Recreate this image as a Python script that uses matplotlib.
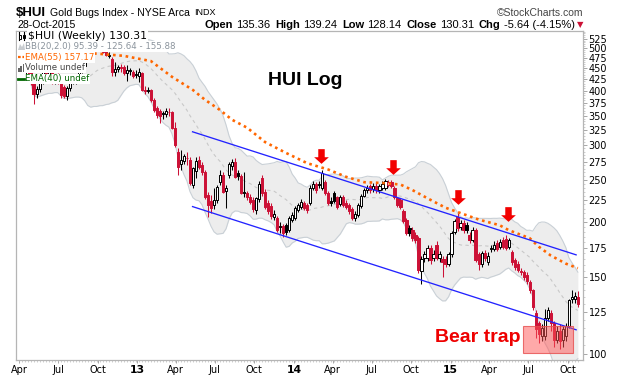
import numpy as np
import pandas as pd
import matplotlib
matplotlib.use("Agg")
import matplotlib.pyplot as plt
import matplotlib.dates as mdates
from matplotlib.patches import Rectangle, Polygon
from matplotlib.collections import PatchCollection
from matplotlib.lines import Line2D
from matplotlib.path import Path
from matplotlib.ticker import FixedLocator, NullFormatter, FixedFormatter

W, H = 620, 376

# ---------------- data (weekly OHLC) ----------------
FIRST_WEEK = "2012-04-02"
opens = [462, 445, 436, 443, 440, 418, 392, 404, 420, 445, 430, 445, 418, 432, 416, 408, 388, 405, 418, 424,
         428, 445, 455, 485, 510, 500, 505, 515, 495, 492, 480, 472, 442, 448, 452, 453, 438, 444, 440, 434,
         432, 439, 402, 400, 402, 380, 364, 360, 353, 353, 358, 357, 329, 290, 272, 276, 280, 278, 244, 262,
         278, 271, 260, 231, 224, 219, 225, 247, 257, 236, 256, 269, 274, 259, 255, 234, 233, 228, 225, 213,
         226, 252, 235, 222, 218, 206, 205, 195, 196, 197, 192, 203, 205, 213, 217, 222, 219, 221, 240, 245,
         244, 240, 247, 233, 224, 233, 228, 220, 228, 222, 219, 215, 205, 208, 218, 230, 237, 242, 238, 242,
         237, 240, 240, 244, 247, 240, 227, 225, 212, 203, 194, 192, 187, 184, 155, 166, 166, 175, 166, 178,
         166, 165, 165, 161, 169, 190, 206, 195, 199, 197, 187, 182, 192, 169, 161, 170, 162, 174, 174, 179,
         176, 182, 183, 176, 171, 164, 161, 154, 154, 152, 146, 140, 124, 118, 110, 110, 121, 124, 118, 108,
         113, 108, 110, 116, 134, 134, 135.36]
highs = [470, 452, 448, 452, 444, 420, 410, 425, 450, 455, 450, 450, 436, 438, 418, 412, 410, 422, 428, 432,
         448, 462, 490, 515, 525, 510, 528, 520, 505, 500, 490, 478, 465, 458, 460, 458, 458, 450, 445, 445,
         450, 442, 410, 408, 404, 384, 368, 363, 360, 364, 364, 360, 339, 296, 293, 287, 290, 282, 268, 282,
         284, 274, 263, 235, 231, 240, 244, 264, 260, 244, 274, 279, 280, 264, 258, 260, 236, 232, 228, 229,
         249, 256, 238, 225, 221, 213, 207, 200, 198, 199, 207, 211, 218, 222, 226, 224, 221, 243, 249, 247,
         248, 263, 250, 236, 228, 236, 230, 231, 231, 225, 221, 217, 212, 221, 232, 240, 244, 245, 246, 246,
         245, 248, 251, 250, 250, 242, 229, 227, 214, 205, 197, 195, 190, 186, 168, 172, 178, 178, 173, 181,
         172, 168, 168, 171, 191, 204, 210, 202, 203, 200, 190, 195, 194, 171, 172, 173, 171, 178, 181, 182,
         183, 185, 187, 184, 173, 166, 163, 157, 156, 154, 148, 141, 126, 119, 117, 127, 128, 126, 119, 116,
         117, 116, 118, 134, 140, 139, 139.24]
lows = [440, 430, 425, 432, 412, 372, 384, 396, 415, 425, 425, 414, 415, 414, 384, 385, 381, 398, 414, 415,
        420, 438, 450, 480, 495, 488, 500, 492, 488, 480, 474, 431, 432, 440, 440, 435, 420, 434, 428, 428,
        418, 398, 392, 394, 376, 358, 346, 337, 345, 348, 350, 326, 298, 257, 263, 272, 270, 243, 240, 252,
        265, 256, 226, 206, 210, 214, 222, 244, 233, 216, 252, 264, 252, 250, 232, 228, 225, 220, 211, 209,
        223, 230, 214, 209, 204, 203, 190, 189, 185, 187, 190, 200, 203, 211, 215, 213, 210, 219, 237, 234,
        240, 237, 231, 219, 218, 221, 214, 218, 217, 214, 209, 202, 201, 206, 216, 228, 234, 233, 235, 234,
        233, 237, 237, 241, 239, 226, 217, 215, 199, 187, 186, 181, 179, 153, 145, 162, 163, 161, 163, 164,
        162, 150, 158, 159, 167, 188, 191, 192, 189, 189, 179, 180, 162, 156, 158, 163, 160, 171, 172, 172,
        174, 174, 173, 174, 160, 156, 154, 152, 148, 145, 138, 126, 109, 106, 107, 108, 119, 113, 104, 106,
        103, 104, 107, 115, 131, 131, 128.14]
closes = [445, 436, 443, 440, 418, 392, 404, 420, 445, 430, 445, 418, 432, 418, 391, 389, 406, 418, 424, 428,
          445, 455, 485, 510, 500, 505, 515, 495, 490, 482, 483, 440, 448, 452, 450, 439, 446, 446, 432, 437,
          440, 401, 400, 402, 380, 362, 352, 349, 355, 360, 357, 329, 301, 267, 277, 283, 281, 246, 266, 276,
          268, 260, 229, 219, 216, 225, 241, 256, 235, 240, 272, 274, 254, 255, 234, 235, 228, 223, 214, 227,
          245, 233, 217, 212, 207, 209, 192, 196, 189, 190, 205, 208, 216, 219, 223, 216, 213, 240, 245, 237,
          245, 259, 234, 222, 222, 224, 217, 228, 219, 217, 212, 205, 209, 219, 230, 237, 239, 237, 242, 237,
          242, 245, 248, 247, 242, 228, 219, 217, 201, 189, 189, 184, 182, 156, 165, 169, 175, 164, 169, 166,
          169, 162, 161, 169, 189, 201, 194, 199, 192, 192, 182, 192, 164, 161, 170, 166, 168, 175, 178, 174,
          180, 176, 175, 182, 162, 158, 156, 154.5, 150, 147, 140, 128, 114, 111, 115, 121, 126, 118, 108, 113,
          107, 114, 116, 133, 135, 135.95, 130.31]

# EMA(55) (week index, value)
ema_week = [23, 27, 35, 44, 51, 58, 62, 67, 71, 76, 82, 89, 96, 103, 109, 115, 121, 127, 131, 136,
            142, 147, 153, 160, 163, 170, 173, 177, 182, 186]
ema_value = [487, 485, 480, 467, 430, 401, 381, 361, 343, 329, 305, 288, 273, 264, 254, 247, 246, 244, 237, 227,
             216, 210, 203, 197, 192, 184, 176, 168, 161, 157.17]

y_ticks = [100, 125, 150, 175, 200, 225, 250, 275, 300, 325, 350, 375, 400, 425, 450, 475, 500, 525]

# annotations (dates / prices)
trend_dates = ["2013-05-10", "2015-10-20"]
upper_trend = [322, 168.6]
lower_trend = [217.3, 113.7]
arrow_dates = ["2014-03-04", "2014-08-19", "2015-01-18", "2015-05-14"]
arrow_prices = [284, 267, 228, 208.5]
trap_dates = ["2015-06-18", "2015-10-13"]
trap_prices = [100.7, 116]
hui_log_pos = ("2014-01-27", 412)
bear_trap_pos = ("2015-06-12", 106.8)

# ---------------- figure ----------------
fig = plt.figure(figsize=(W / 100, H / 100), dpi=100)
ax = fig.add_axes([16 / W, 16 / H, 567 / W, 329 / H])
ax.set_facecolor("white")

n = len(closes)
bar_dates = pd.date_range(FIRST_WEEK, periods=n, freq="7D") - pd.Timedelta(days=2)
xd = mdates.date2num(bar_dates)

s_close = pd.Series(closes, dtype=float)
mid = s_close.rolling(20, min_periods=4).mean()
sd = s_close.rolling(20, min_periods=4).std(ddof=0)
upper = mid + 2 * sd
lower = mid - 2 * sd
ok = ~mid.isna().values

ax.fill_between(xd[ok], lower[ok], upper[ok], color="#ededed", zorder=1, linewidth=0)
ax.plot(xd[ok], upper[ok], color="#c9d0d6", lw=0.8, zorder=2)
ax.plot(xd[ok], lower[ok], color="#c9d0d6", lw=0.8, zorder=2)
ax.plot(xd[ok], mid[ok], color="#c8c8c8", lw=0.8, ls=(0, (3, 3)), zorder=2)

# candles
RED = "#cc1136"
body_w = 5.2
rects, fcs, ecs, wcol = [], [], [], []
for i in range(n):
    o, h, l, c = opens[i], highs[i], lows[i], closes[i]
    prev = closes[i - 1] if i > 0 else o
    col = "black" if c >= prev else RED
    wcol.append(col)
    lo_b, hi_b = min(o, c), max(o, c)
    rects.append(Rectangle((xd[i] - body_w / 2, lo_b), body_w, hi_b - lo_b))
    fcs.append(col if c < o else "white")
    ecs.append(col)
ax.vlines(xd, lows, highs, colors=wcol, lw=0.75, zorder=3)
pc = PatchCollection(rects, facecolors=fcs, edgecolors=ecs, linewidths=0.7, zorder=3.5)
ax.add_collection(pc)

# EMA(55)
ax.plot(xd[ema_week], ema_value, color="#ff6600", lw=1.9, ls=(0, (1, 1.4)), zorder=4)

# trend lines
td = mdates.date2num(pd.to_datetime(trend_dates))
ax.plot(td, upper_trend, color="#2323ff", lw=0.95, zorder=5)
ax.plot(td, lower_trend, color="#2323ff", lw=0.95, zorder=5)

# bear trap box
bx = mdates.date2num(pd.to_datetime(trap_dates))
ax.add_patch(Rectangle((bx[0], trap_prices[0]), bx[1] - bx[0], trap_prices[1] - trap_prices[0],
                       facecolor=(1.0, 0.33, 0.33, 0.5), edgecolor=(0.9, 0.3, 0.3, 0.8), lw=0.8, zorder=6))

# red arrows
arrow_path = Path([(-0.22, 0.5), (0.22, 0.5), (0.22, -0.05), (0.5, -0.05), (0.0, -0.5),
                   (-0.5, -0.05), (-0.22, -0.05), (-0.22, 0.5)], closed=True)
ad = mdates.date2num(pd.to_datetime(arrow_dates))
ax.scatter(ad, arrow_prices, marker=arrow_path, s=112, color="#f20000", linewidths=0, zorder=7)

# texts
ax.text(mdates.date2num(pd.Timestamp(hui_log_pos[0])), hui_log_pos[1], "HUI Log", ha="center",
        va="baseline", fontsize=14, fontweight="bold", family="Liberation Sans", zorder=8)
ax.text(mdates.date2num(pd.Timestamp(bear_trap_pos[0])), bear_trap_pos[1], "Bear trap", ha="right",
        va="baseline", fontsize=14, fontweight="bold", color="#ee0000", family="Liberation Sans", zorder=8)

# axes
ax.set_yscale("log")
ax.set_ylim(97.0, 547)
ax.set_xlim(mdates.date2num(pd.Timestamp("2012-03-25")), mdates.date2num(pd.Timestamp("2015-11-05")))
ax.yaxis.tick_right()
ax.yaxis.set_major_locator(FixedLocator(y_ticks))
ax.yaxis.set_major_formatter(FixedFormatter([str(v) for v in y_ticks]))
ax.yaxis.set_minor_locator(FixedLocator(list(range(100, 546, 5))))
ax.yaxis.set_minor_formatter(NullFormatter())
ax.tick_params(axis="y", which="major", length=3, width=0.6, color="#999999", labelsize=7, pad=1)
ax.tick_params(axis="y", which="minor", length=1.5, width=0.5, color="#bbbbbb")

qdates = pd.date_range("2012-04-01", "2015-10-01", freq="QS")
labels = [d.strftime("%y") if d.month == 1 else d.strftime("%b") for d in qdates]
ax.xaxis.set_major_locator(FixedLocator(mdates.date2num(qdates)))
ax.xaxis.set_major_formatter(FixedFormatter(labels))
ax.xaxis.set_minor_locator(FixedLocator(xd))
ax.xaxis.set_minor_formatter(NullFormatter())
ax.tick_params(axis="x", which="major", length=2.5, width=0.6, color="#999999", labelsize=7, pad=0.8)
ax.tick_params(axis="x", which="minor", length=1.5, width=0.5, color="#bbbbbb")
for lab, d in zip(ax.get_xticklabels(), qdates):
    if d.month == 1:
        lab.set_fontweight("bold")
        lab.set_fontsize(7.8)
for side in ["left", "top", "right", "bottom"]:
    ax.spines[side].set_color("#b5b5b5")
    ax.spines[side].set_linewidth(0.9)

# ---------------- header & legend ----------------
renderer = fig.canvas.get_renderer()


def fx(x):
    return x / W


def fy(y):
    return 1 - y / H


def place_runs(runs, x_px, y_px, align="left"):
    arts = []
    total = 0
    for text, gap, kw in runs:
        t = fig.text(0, 0, text, va="center", ha="left", **kw)
        w = t.get_window_extent(renderer=renderer).width
        arts.append((t, w, gap))
        total += w + gap
    total -= arts[-1][2]
    cur = x_px - total if align == "right" else x_px
    for t, w, gap in arts:
        t.set_position((fx(cur), fy(y_px)))
        cur += w + gap


LS = "Liberation Sans"
place_runs([("$HUI", 4, dict(fontsize=9.5, fontweight="bold", family=LS)),
            ("Gold Bugs Index - NYSE Arca", 4, dict(fontsize=7.6, family=LS)),
            ("INDX", 0, dict(fontsize=6.5, family=LS))], 16, 12.5)
fig.text(fx(583), fy(12.5), "\u00a9StockCharts.com", ha="right", va="center", fontsize=7.5, family=LS,
         color="#444444")
fig.text(fx(17), fy(25), "28-Oct-2015", ha="left", va="center", fontsize=7.6, family=LS)
b = dict(fontsize=8, fontweight="bold", family=LS)
r = dict(fontsize=8, family=LS)
place_runs([("Open", 3, b), ("135.36", 5, r), ("High", 3, b), ("139.24", 5, r), ("Low", 3, b),
            ("128.14", 5, r), ("Close", 3, b), ("130.31", 5, r), ("Chg", 3, b), ("-5.64 (-4.15%)", 2, r),
            ("\u25bc", 0, dict(fontsize=6, color="#cc1136", family="DejaVu Sans"))], 583, 25, align="right")

bg = dict(facecolor="white", edgecolor="none", pad=0.6)
rows = [("$HUI (Weekly) 130.31", 36, 7.8, "black", 28),
        ("BB(20,2.0) 95.39 - 125.64 - 155.88", 46.5, 6.2, "#8a939c", 25),
        ("EMA(55) 157.17", 57.2, 6.2, "#ff6600", 25),
        ("Volume undef", 68, 6.2, "#444444", 25),
        ("EMA(40) undef", 79, 6.2, "#006600", 25)]
for txt, yy, fs, col, xx in rows:
    fig.text(fx(xx), fy(yy), txt, ha="left", va="center", fontsize=fs, color=col, family="DejaVu Sans",
             bbox=bg, zorder=10)

# legend icons
fig.add_artist(Rectangle((fx(17), fy(84)), fx(9), 52 / H, transform=fig.transFigure, facecolor="white",
                         edgecolor="none", zorder=9))
for x0 in (19.5, 23.5):
    fig.add_artist(Line2D([fx(x0), fx(x0)], [fy(40), fy(32)], color="black", lw=0.8, zorder=11))
fig.add_artist(Rectangle((fx(18.5), fy(38.5)), fx(2), 4 / H, transform=fig.transFigure, facecolor="white",
                         edgecolor="black", lw=0.7, zorder=12))
fig.add_artist(Rectangle((fx(22.5), fy(38)), fx(2), 3.5 / H, transform=fig.transFigure, facecolor="black",
                         edgecolor="black", lw=0.7, zorder=12))
fig.add_artist(Polygon([(fx(18), fy(50)), (fx(20), fy(44)), (fx(22), fy(47)), (fx(24), fy(43)),
                        (fx(25), fy(50))], closed=True, transform=fig.transFigure, facecolor="#c8ccd0",
                       edgecolor="none", zorder=11))
fig.add_artist(Line2D([fx(18), fx(24.5)], [fy(57.2), fy(57.2)], color="#ff6600", lw=1.6,
                      ls=(0, (1.2, 0.8)), zorder=11))
for k, hgt in enumerate((4, 6, 8)):
    fig.add_artist(Rectangle((fx(18 + k * 2.3), fy(72)), fx(1.6), hgt / H, transform=fig.transFigure,
                             facecolor="#666666", edgecolor="none", zorder=11))
fig.add_artist(Line2D([fx(18), fx(24.5)], [fy(79), fy(79)], color="#006600", lw=2.0, zorder=11))

fig.savefig("out.png", dpi=100, facecolor="white")
